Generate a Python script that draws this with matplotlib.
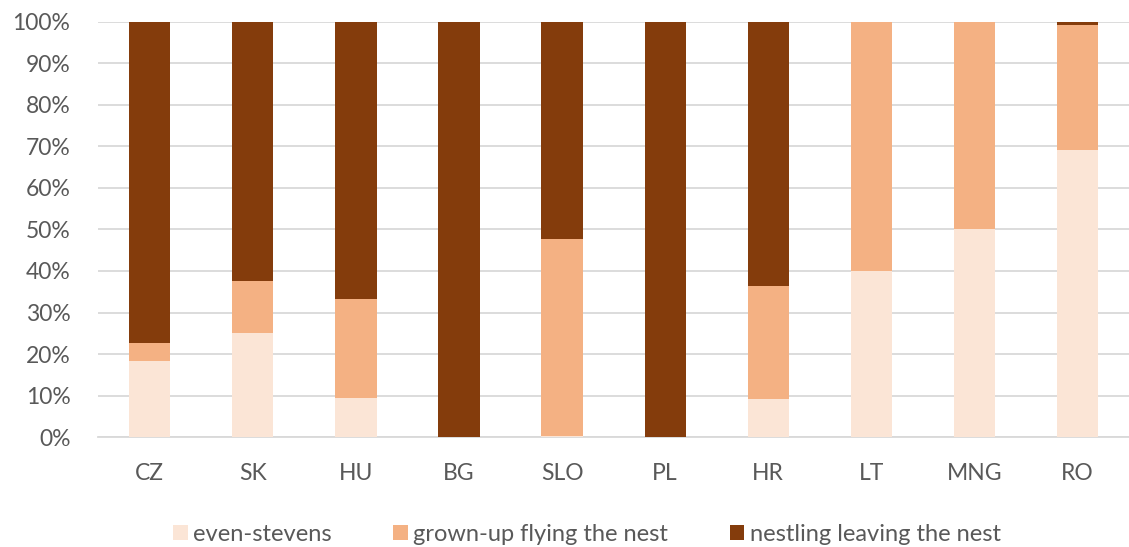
import matplotlib.pyplot as plt
import numpy as np
from matplotlib.ticker import PercentFormatter

# shares per country, in percent
countries = ["CZ", "SK", "HU", "BG", "SLO", "PL", "HR", "LT", "MNG", "RO"]
even_stevens = [18.2, 25.0, 9.5, 0.0, 0.3, 0.0, 9.1, 40.0, 50.0, 69.2]
grown_up = [4.5, 12.5, 23.8, 0.0, 47.4, 0.0, 27.3, 60.0, 50.0, 30.0]
nestling = [77.3, 62.5, 66.7, 100.0, 52.3, 100.0, 63.6, 0.0, 0.0, 0.8]

labels = ["even-stevens", "grown-up flying the nest", "nestling leaving the nest"]
colors = ["#FBE5D6", "#F4B183", "#843C0C"]

plt.rcParams["font.family"] = ["Lato", "DejaVu Sans"]
text_col = "#595959"

fig = plt.figure(figsize=(11.29, 5.47), dpi=100)
ax = fig.add_axes([0.087, 0.201, 0.913, 0.759])

x = np.arange(len(countries))
bottom = np.zeros(len(countries))
for vals, lab, col in zip([even_stevens, grown_up, nestling], labels, colors):
    ax.bar(x, vals, width=0.4, bottom=bottom, color=col, label=lab, zorder=3)
    bottom += np.array(vals)

ax.set_ylim(0, 100)
ax.set_xlim(-0.5, len(countries) - 0.5)
ax.set_yticks(np.arange(0, 101, 10))
ax.yaxis.set_major_formatter(PercentFormatter(decimals=0))
ax.set_xticks(x)
ax.set_xticklabels(countries)

ax.grid(axis="y", color="#D9D9D9", linewidth=1.3, zorder=0)
for s in ["top", "right", "left"]:
    ax.spines[s].set_visible(False)
ax.spines["bottom"].set_color("#D9D9D9")
ax.spines["bottom"].set_linewidth(1.3)
ax.tick_params(axis="both", length=0, labelsize=16.5, colors=text_col)
ax.tick_params(axis="x", pad=19)
ax.tick_params(axis="y", pad=20)

leg = fig.legend(loc="lower center", bbox_to_anchor=(0.52, -0.035), ncol=3, frameon=False,
                 fontsize=17, handlelength=0.6, handleheight=0.6, handletextpad=0.25,
                 columnspacing=2.6)
for t in leg.get_texts():
    t.set_color(text_col)

fig.savefig("out.png", dpi=100)
